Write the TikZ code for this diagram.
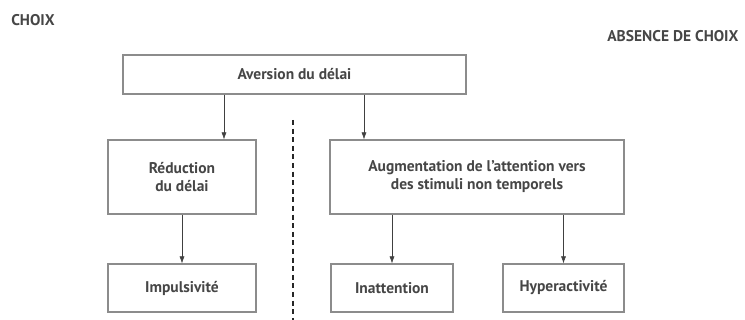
\documentclass[tikz,border=0pt]{standalone}
\usepackage{fontspec}
\setmainfont{PT Sans}
\usetikzlibrary{arrows.meta}
\definecolor{boxgray}{HTML}{8C8C8C}
\definecolor{textgray}{HTML}{464646}
\begin{document}
\begin{tikzpicture}
				[x=1pt, y=-1pt,
				every node/.style={text=textgray, font=\bfseries\fontsize{15.5}{18}\selectfont},
				box/.style={draw=boxgray, line width=1.1pt, align=center, inner sep=0pt},
				arr/.style={draw=black!75, line width=0.6pt, -{Latex[length=7pt,width=5pt]}}]
				\useasboundingbox (0,0) rectangle (745,320);
				\node (choix) at (33,20) {CHOIX};
				\node[anchor=east] (absence) at (742,36) {ABSENCE DE CHOIX};
				\node[box, minimum width=343pt, minimum height=39pt] (aversion) at (294.5,74.5) {Aversion du délai};
				\node[box, minimum width=148pt, minimum height=74pt] (reduction) at (182,177) {Réduction\\du délai};
				\node[box, minimum width=148pt, minimum height=48pt] (impulsivite) at (182,288) {Impulsivité};
				\node[box, minimum width=294pt, minimum height=74pt] (augmentation) at (477,177) {Augmentation de l’attention vers\\des stimuli non temporels};
				\node[box, minimum width=122pt, minimum height=48pt] (inattention) at (392,288) {Inattention};
				\node[box, minimum width=121pt, minimum height=48pt] (hyperactivite) at (563.5,288) {Hyperactivité};
				\coordinate (sep top) at (293,120);
				\coordinate (sep bottom) at (293,320);
				\draw[arr] ([xshift=42pt]reduction.north |- aversion.south) -- ([xshift=42pt]reduction.north);
				\draw[arr] ([xshift=-113pt]augmentation.north |- aversion.south) -- ([xshift=-113pt]augmentation.north);
				\draw[arr] (reduction) -- (impulsivite);
				\draw[arr] (inattention.north |- augmentation.south) -- (inattention.north);
				\draw[arr] (hyperactivite.north |- augmentation.south) -- (hyperactivite.north);
				\draw[black!85, line width=2pt, dash pattern=on 5pt off 3.6pt] (sep top) -- (sep bottom);
\end{tikzpicture}
\end{document}
